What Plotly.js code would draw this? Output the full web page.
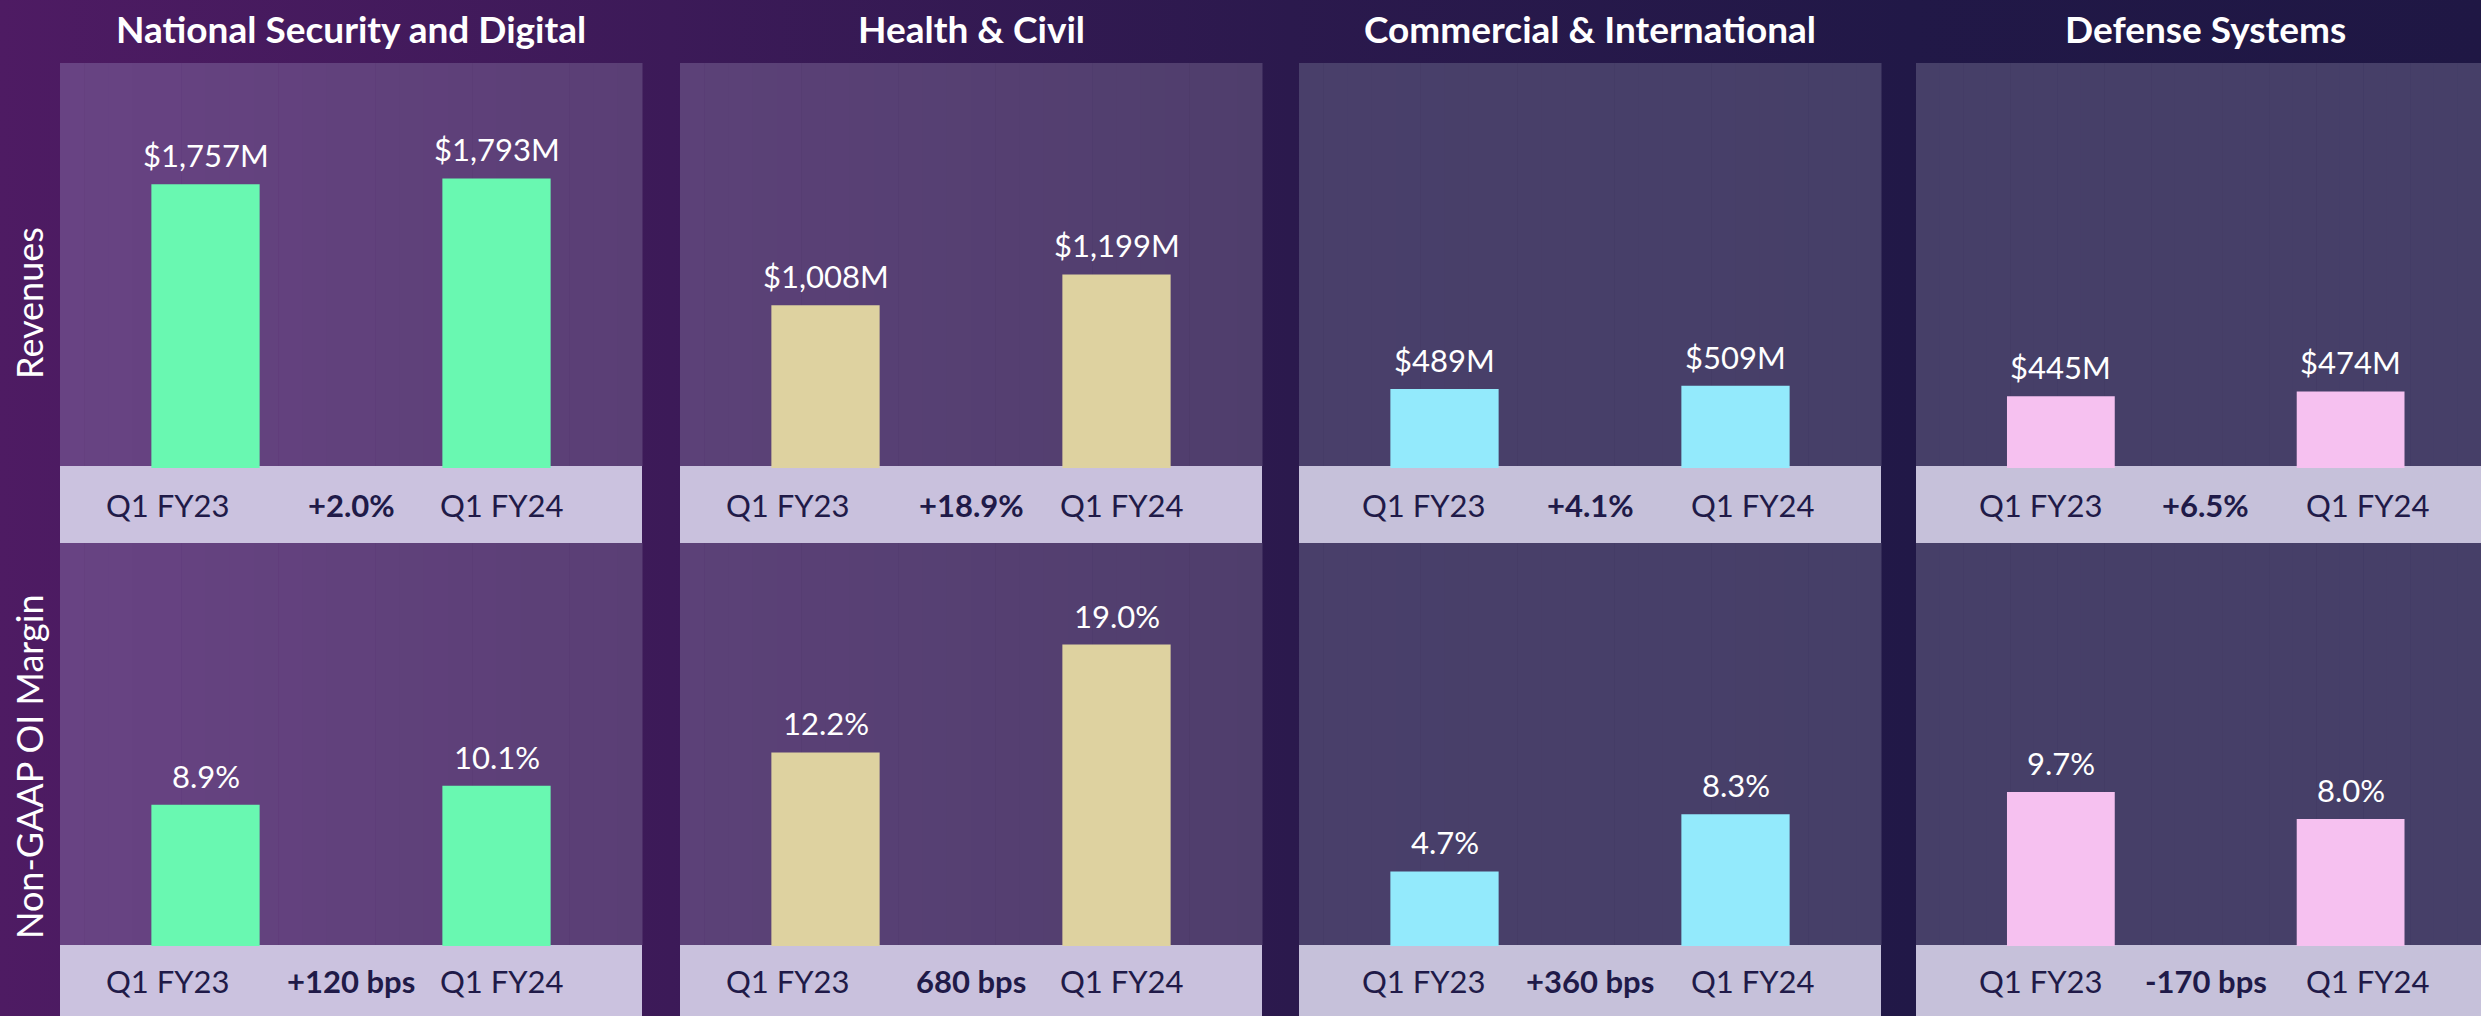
<!DOCTYPE html>
<html>
<head>
<meta charset="utf-8">
<script src="https://cdn.plot.ly/plotly-3.0.1.min.js"></script>
<style>
  html, body { margin: 0; padding: 0; width: 2481px; height: 1016px; overflow: hidden; }
  body { background: linear-gradient(to right, #4e1b63 0%, #3c1a58 27%, #2b194d 52%, #211847 77%, #1f1744 100%); }
  #chart { width: 2481px; height: 1016px; }
</style>
</head>
<body>
<div id="chart"></div>
<script>
// ---- data ----
const segments = ["National Security and Digital", "Health & Civil", "Commercial & International", "Defense Systems"];
const periods = ["Q1 FY23", "Q1 FY24"];
const revenues = [[1757, 1793], [1008, 1199], [489, 509], [445, 474]];       // $M
const margins = [[8.9, 10.1], [12.2, 19.0], [4.7, 8.3], [9.7, 8.0]];          // %
const revenueChange = ["+2.0%", "+18.9%", "+4.1%", "+6.5%"];
const marginChange = ["+120 bps", "680 bps", "+360 bps", "-170 bps"];
const rowTitles = ["Revenues", "Non-GAAP OI Margin"];
const barColors = ["#69f8b1", "#ded2a0", "#93eafc", "#f6c1f0"];

// ---- layout geometry (pixels in a 2481 x 1016 page) ----
const W = 2481, H = 1016;
const colPx = [[60, 642], [680, 1262], [1299, 1881], [1916, 2481]];
const colRange = [[-0.5, 1.5], [-0.5, 1.5], [-0.5, 1.5], [-0.5, 1.45]];
const rowPanelPx = [[63, 466], [543, 945]];
const rowBandPx = [[466, 543], [945, 1016]];
const rowAxisPx = [[63, 468], [543, 946]];
const rowRange = [[0, 2508], [0, 25.4]];
const panelLeftColors = ["#684383", "#5c4178", "#493f6a", "#463f68"];
const panelRightColors = ["#5a3f75", "#4f3e6c", "#463f68", "#463f68"];
const bandColors = ["#cbc2df", "#c9c1dd", "#c6c1da", "#c6c1da"];
const labelPos = [[-0.13, 1.02], [-0.13, 1.02], [-0.07, 1.06], [-0.07, 1.06]];

const py = p => 1 - p / H;
const px = p => p / W;

function hex2rgb(h){ return [parseInt(h.slice(1,3),16), parseInt(h.slice(3,5),16), parseInt(h.slice(5,7),16)]; }
function mix(a, b, t){ const A = hex2rgb(a), B = hex2rgb(b); return 'rgb(' + A.map((v,i)=>Math.round(v+(B[i]-v)*t)).join(',') + ')'; }

const traces = [];
const layout = {
  width: W, height: H,
  margin: {l: 0, r: 0, t: 0, b: 0},
  paper_bgcolor: 'rgba(0,0,0,0)',
  plot_bgcolor: 'rgba(0,0,0,0)',
  showlegend: false,
  shapes: [],
  annotations: [],
  font: {family: 'Lato, "Open Sans", sans-serif', color: '#ffffff'}
};

const FONT = 'Lato, "Open Sans", sans-serif';
const series = [revenues, margins];
const changes = [revenueChange, marginChange];
const fmt = [v => '$' + v.toLocaleString('en-US') + 'M', v => v.toFixed(1) + '%'];

for (let r = 0; r < 2; r++) {
  for (let c = 0; c < 4; c++) {
    const idx = r * 4 + c + 1;
    const xa = 'x' + (idx === 1 ? '' : idx);
    const ya = 'y' + (idx === 1 ? '' : idx);
    const xkey = 'xaxis' + (idx === 1 ? '' : idx);
    const ykey = 'yaxis' + (idx === 1 ? '' : idx);
    layout[xkey] = {
      domain: [px(colPx[c][0]), px(colPx[c][1])],
      range: colRange[c], anchor: ya,
      showgrid: false, zeroline: false, showticklabels: false, ticks: '', showline: false, fixedrange: true
    };
    layout[ykey] = {
      domain: [py(rowAxisPx[r][1]), py(rowAxisPx[r][0])],
      range: rowRange[r], anchor: xa,
      showgrid: false, zeroline: false, showticklabels: false, ticks: '', showline: false, fixedrange: true
    };
    const vals = series[r][c];
    traces.push({
      type: 'bar', x: [0, 1], y: vals, xaxis: xa, yaxis: ya,
      width: 0.372,
      marker: {color: barColors[c], line: {width: 0}},
      hoverinfo: 'skip'
    });
    // value labels above the bars
    vals.forEach((v, i) => {
      layout.annotations.push({
        xref: xa, yref: ya, x: i, y: v, text: fmt[r](v), showarrow: false,
        xanchor: 'center', yanchor: 'bottom', yshift: 8,
        font: {family: FONT, size: 31, color: '#ffffff'}
      });
    });

    // panel background as gradient strips
    const n = 24;
    const x0 = colPx[c][0], x1 = colPx[c][1];
    for (let k = 0; k < n; k++) {
      layout.shapes.push({
        type: 'rect', xref: 'paper', yref: 'paper', layer: 'below',
        x0: px(x0 + (x1 - x0) * k / n), x1: px(x0 + (x1 - x0) * (k + 1) / n + 0.5),
        y0: py(rowPanelPx[r][1]), y1: py(rowPanelPx[r][0]),
        fillcolor: mix(panelLeftColors[c], panelRightColors[c], k / (n - 1)), line: {width: 0}
      });
    }
    // band
    layout.shapes.push({
      type: 'rect', xref: 'paper', yref: 'paper', layer: 'below',
      x0: px(x0), x1: px(x1), y0: py(rowBandPx[r][1]), y1: py(rowBandPx[r][0]),
      fillcolor: bandColors[c], line: {width: 0}
    });
    // band labels
    const bandY = py((rowBandPx[r][0] + rowBandPx[r][1]) / 2);
    layout.annotations.push(
      {xref: xa, yref: 'paper', x: labelPos[c][0], y: bandY, text: periods[0], showarrow: false,
       xanchor: 'center', yanchor: 'middle', font: {family: FONT, size: 31, color: '#201a48'}},
      {xref: xa, yref: 'paper', x: 0.5, y: bandY, text: '<b>' + changes[r][c] + '</b>', showarrow: false,
       xanchor: 'center', yanchor: 'middle', font: {family: FONT, size: 31, color: '#201a48'}},
      {xref: xa, yref: 'paper', x: labelPos[c][1], y: bandY, text: periods[1], showarrow: false,
       xanchor: 'center', yanchor: 'middle', font: {family: FONT, size: 31, color: '#201a48'}}
    );
    if (r === 0) {
      layout.annotations.push({
        xref: xa, yref: 'paper', x: 0.5, y: py(29), text: '<b>' + segments[c] + '</b>', showarrow: false,
        xanchor: 'center', yanchor: 'middle', font: {family: FONT, size: 37, color: '#ffffff'}
      });
    }
  }
}

// row titles on the left
layout.annotations.push(
  {xref: 'paper', yref: 'paper', x: px(29), y: py(303), text: rowTitles[0], textangle: -90, showarrow: false,
   xanchor: 'center', yanchor: 'middle', font: {family: FONT, size: 36, color: '#ffffff'}},
  {xref: 'paper', yref: 'paper', x: px(29), y: py(767), text: rowTitles[1], textangle: -90, showarrow: false,
   xanchor: 'center', yanchor: 'middle', font: {family: FONT, size: 36, color: '#ffffff'}}
);

Plotly.newPlot('chart', traces, layout, {displayModeBar: false, staticPlot: true});
</script>
</body>
</html>
